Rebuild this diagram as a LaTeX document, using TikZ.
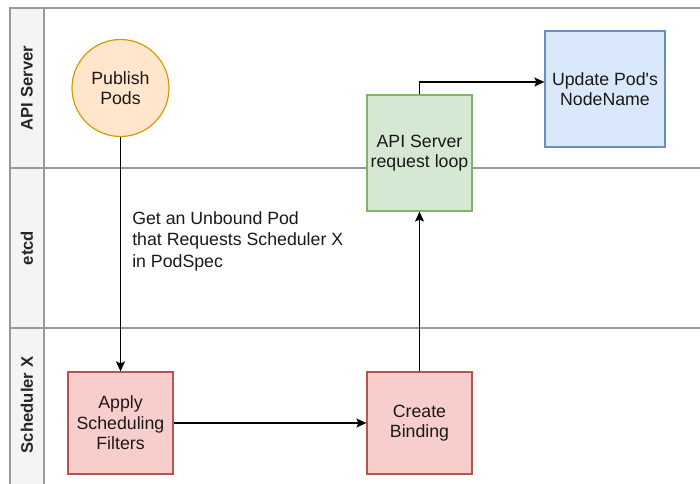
\documentclass[tikz,border=0pt]{standalone}
\usepackage{fontspec}
\setmainfont{Liberation Sans}
% same face without TeX ligature mapping, for a straight apostrophe
\newfontfamily\plainsans{Liberation Sans}
\usetikzlibrary{arrows.meta}

\definecolor{lanegray}{HTML}{999999}
\definecolor{headfill}{HTML}{F4F4F4}
\definecolor{orfill}{HTML}{FFE6CC}\definecolor{ordraw}{HTML}{D79B00}
\definecolor{blfill}{HTML}{DAE8FC}\definecolor{bldraw}{HTML}{6C8EBF}
\definecolor{grfill}{HTML}{D5E8D4}\definecolor{grdraw}{HTML}{82B366}
\definecolor{rdfill}{HTML}{F8CECC}\definecolor{rddraw}{HTML}{B85450}

\newdimen\pxu \pxu=0.75pt

\tikzset{
  lane/.style={draw=lanegray, line width=1.5\pxu},
  headtxt/.style={rotate=90, font=\fontsize{12.5}{15}\selectfont\bfseries, text=black!85},
  proc/.style={draw, line width=1.2\pxu, align=center, inner sep=0pt,
    font=\fontsize{13.3}{15.3}\selectfont, text=black!90},
  conn/.style={draw=black, line width=1.3\pxu, -{Stealth[length=7.5pt, width=6.75pt, inset=1.5pt]}},
}

\begin{document}
\begin{tikzpicture}[x=0.75pt, y=-0.75pt]
\useasboundingbox (0,0) rectangle (700,483);
\clip (0,0) rectangle (700,483);

% swimlane frame
\fill[headfill] (10,8) rectangle (44,490);
\draw[lane] (10,490) -- (10,8) -- (710,8);
\draw[lane] (44,8) -- (44,490);
\draw[lane] (10,168) -- (710,168);
\draw[lane] (10,328) -- (710,328);

\node[headtxt] (hapi) at (27,88) {API Server};
\node[headtxt] (hetcd) at (27,248) {etcd};
\node[headtxt] (hsch) at (27,405) {Scheduler X};

% process steps
\node[proc, circle, fill=orfill, draw=ordraw, minimum size=97\pxu] (pub) at (120.5,88) {Publish\\Pods};
\node[proc, fill=rdfill, draw=rddraw, minimum width=105\pxu, minimum height=102\pxu] (apply) at (120.5,423) {Apply\\Scheduling\\Filters};
\node[proc, fill=rdfill, draw=rddraw, minimum width=105\pxu, minimum height=102\pxu] (bind) at (419.5,423) {Create\\Binding};
\node[proc, fill=grfill, draw=grdraw, minimum width=105\pxu, minimum height=116\pxu] (api) at (419.5,153) {API Server\\request loop};
\node[proc, fill=blfill, draw=bldraw, minimum width=120\pxu, minimum height=116\pxu] (upd) at (605,89) {\plainsans Update Pod's\\NodeName};

% connectors
\draw[conn] (pub) -- (apply);
\draw[conn] (apply) -- (bind);
\draw[conn] (bind) -- (api);
\draw[conn] (api.north) |- ([yshift=5.25pt]upd.west);

\node[anchor=north west, align=left, inner sep=0pt, font=\fontsize{13.3}{16.1}\selectfont, text=black!90] (lbl) at (132,211)
  {Get an Unbound Pod\\that Requests Scheduler X\\in PodSpec};
\end{tikzpicture}
\end{document}
